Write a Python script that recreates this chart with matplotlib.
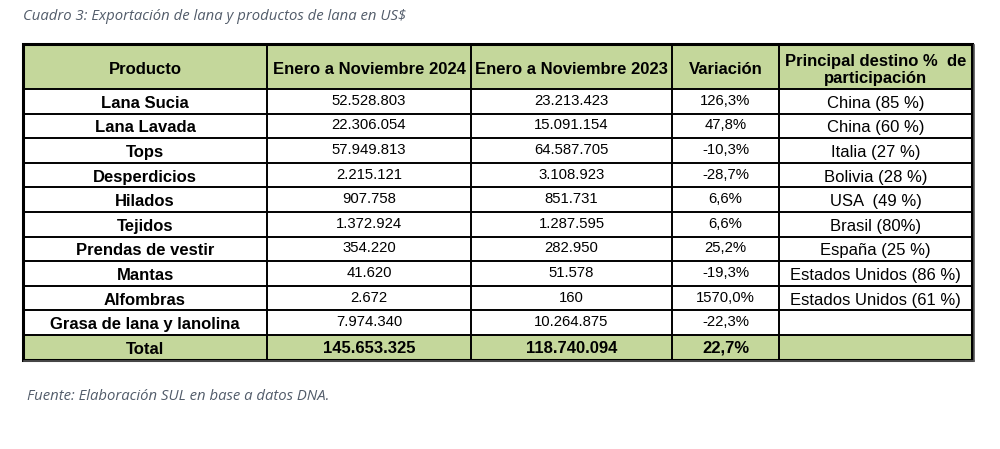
import matplotlib

matplotlib.use("Agg")
import matplotlib.pyplot as plt
from matplotlib.patches import Rectangle

plt.rcParams["font.family"] = ["Liberation Sans", "DejaVu Sans"]

TITLE = "Cuadro 3: Exportación de lana y productos de lana en US$"
SOURCE = "Fuente: Elaboración SUL en base a datos DNA."

headers = ["Producto", "Enero a Noviembre 2024", "Enero a Noviembre 2023",
           "Variación", "Principal destino %  de\nparticipación"]
productos = ["Lana Sucia", "Lana Lavada", "Tops", "Desperdicios", "Hilados",
             "Tejidos", "Prendas de vestir", "Mantas", "Alfombras",
             "Grasa de lana y lanolina"]
ene_nov_2024 = ["52.528.803", "22.306.054", "57.949.813", "2.215.121", "907.758",
                "1.372.924", "354.220", "41.620", "2.672", "7.974.340"]
ene_nov_2023 = ["23.213.423", "15.091.154", "64.587.705", "3.108.923", "851.731",
                "1.287.595", "282.950", "51.578", "160", "10.264.875"]
variacion = ["126,3%", "47,8%", "-10,3%", "-28,7%", "6,6%", "6,6%", "25,2%",
             "-19,3%", "1570,0%", "-22,3%"]
destino = ["China (85 %)", "China (60 %)", "Italia (27 %)", "Bolivia (28 %)",
           "USA  (49 %)", "Brasil (80%)", "España (25 %)", "Estados Unidos (86 %)",
           "Estados Unidos (61 %)", ""]
total = ["Total", "145.653.325", "118.740.094", "22,7%", ""]

GREEN = "#c4d79b"
NOTE = "#525c6a"
col_edges = [23, 267, 471, 672, 779, 972]
top, head_h, row_h = 44, 45, 24.6

fig = plt.figure(figsize=(10, 4.49), dpi=100)
ax = fig.add_axes([0, 0, 1, 1])
ax.set_xlim(0, 1000)
ax.set_ylim(449, 0)
ax.axis("off")

ax.text(23, 17, TITLE, fontsize=10.7, style="italic", color=NOTE,
        family=["Open Sans", "DejaVu Sans"], va="center")
ax.text(27, 397, SOURCE, fontsize=10.7, style="italic", color=NOTE,
        family=["Open Sans", "DejaVu Sans"], va="center")

rows = [list(r) for r in zip(productos, ene_nov_2024, ene_nov_2023, variacion, destino)]
n = len(rows)
bottom = top + head_h + (n + 1) * row_h

# fills
ax.add_patch(Rectangle((col_edges[0], top), col_edges[-1] - col_edges[0], head_h,
                       facecolor=GREEN, edgecolor="none"))
ax.add_patch(Rectangle((col_edges[0], top + head_h + n * row_h),
                       col_edges[-1] - col_edges[0], row_h,
                       facecolor=GREEN, edgecolor="none"))

# header text
for j, h in enumerate(headers):
    cx = (col_edges[j] + col_edges[j + 1]) / 2
    dy = 3.5 if "\n" in h else 2.5
    ax.text(cx, top + head_h / 2 + dy, h, ha="center", va="center", fontsize=12,
            weight="bold", linespacing=1.2)

# body
for i, r in enumerate(rows + [total]):
    cy = top + head_h + (i + 0.5) * row_h
    is_total = i == n
    for j, val in enumerate(r):
        cx = (col_edges[j] + col_edges[j + 1]) / 2
        bold = j == 0 or is_total
        if j == 0 or j == 4:
            size, dy = 12, 2
        elif is_total:
            size, dy = 12, 1
        else:
            size, dy = 10.7, -0.5
        ax.text(cx, cy + dy, val, ha="center", va="center", fontsize=size,
                weight="bold" if bold else "normal")

# grid lines
lw = 1.4
for x in col_edges[1:-1]:
    ax.plot([x, x], [top, bottom], color="black", lw=lw)
ys = [top + head_h + k * row_h for k in range(n + 1)]
for y in ys:
    ax.plot([col_edges[0], col_edges[-1]], [y, y], color="black", lw=lw)
ax.add_patch(Rectangle((col_edges[0], top), col_edges[-1] - col_edges[0],
                       bottom - top, facecolor="none", edgecolor="black", lw=2.2))
# shadow on right / bottom like the source
ax.plot([col_edges[-1] + 1.5, col_edges[-1] + 1.5], [top + 1, bottom + 1.5],
        color="#555555", lw=1.2)
ax.plot([col_edges[0] + 1, col_edges[-1] + 1.5], [bottom + 1.5, bottom + 1.5],
        color="#555555", lw=1.2)

fig.savefig("out.png", dpi=100)
